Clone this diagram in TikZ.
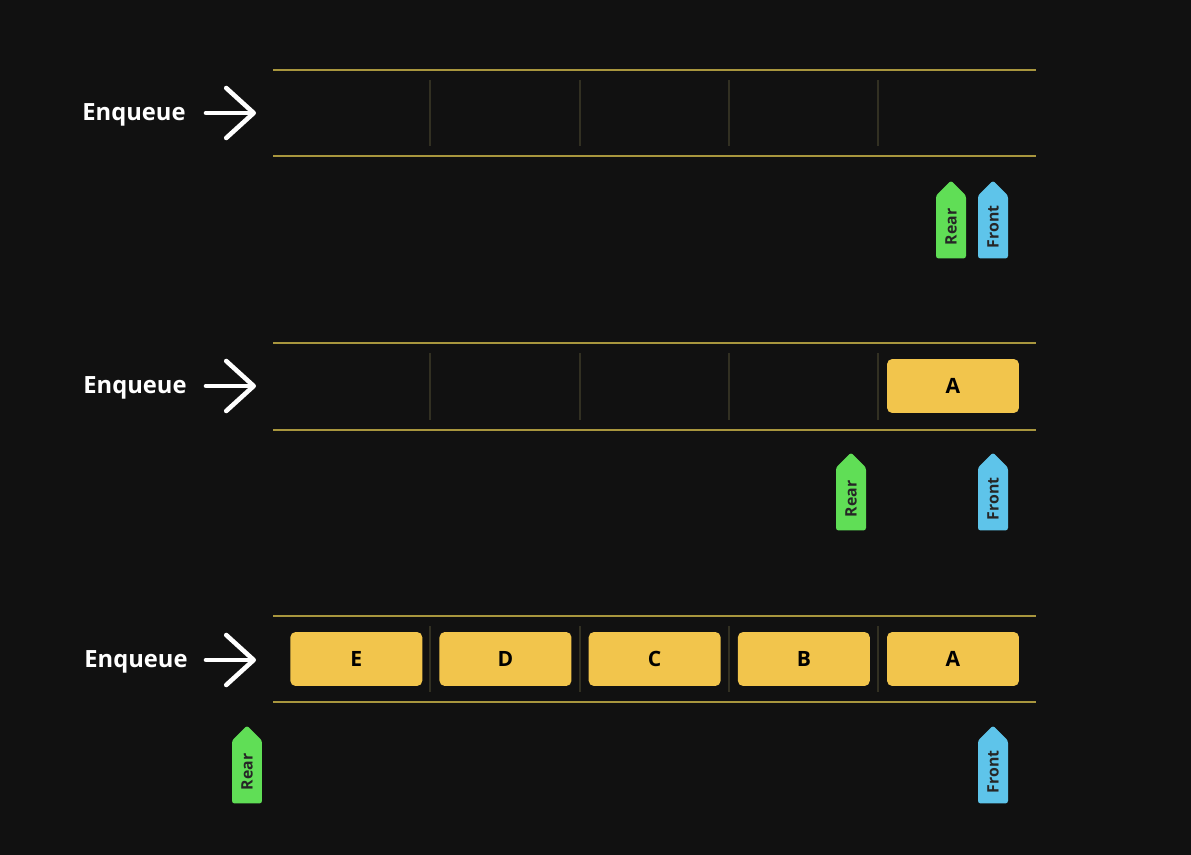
\documentclass[tikz,border=0pt]{standalone}
\usepackage{fontspec}
\setmainfont{Open Sans}
\usetikzlibrary{shapes.symbols, arrows.meta, positioning}
\definecolor{bg}{RGB}{17,17,17}
\definecolor{railcol}{RGB}{168,150,62}
\definecolor{divcol}{RGB}{50,48,34}
\definecolor{slotcol}{RGB}{242,197,76}
\definecolor{rearcol}{RGB}{96,222,86}
\definecolor{frontcol}{RGB}{94,196,234}
\tikzstyle{oplabel} = [text=white, font=\fontsize{13.5}{16}\selectfont\bfseries]
\tikzstyle{item}    = [rectangle, rounded corners=3pt, fill=slotcol, text=black, minimum width=2.64cm, minimum height=1.08cm, font=\fontsize{12}{14}\selectfont\bfseries]
\tikzstyle{reartag} = [signal, signal to=east, rotate=90, fill=rearcol, rounded corners=1.5pt, minimum width=1.56cm, minimum height=0.6cm, inner sep=0pt, text=black!85, font=\fontsize{9}{10}\selectfont\bfseries]
\tikzstyle{fronttag} = [reartag, fill=frontcol]
\tikzstyle{railline} = [draw=railcol, line width=1.5pt]
\tikzstyle{divline}  = [draw=divcol, line width=1.1pt]
\tikzstyle{push}     = [draw=white, line width=2.6pt, line cap=round, -{Straight Barb[length=0.55cm, width=1.0cm, line cap=round, line join=round]}]

\begin{document}
\begin{tikzpicture}[x=0.02cm, y=-0.02cm, node distance=0.33cm]
    \useasboundingbox[fill=bg] (0,0) rectangle (1191,855);

    % empty queue
    \node[oplabel] (enq1) at (134,115) {Enqueue};
    \coordinate (from1) at (206,113);
    \coordinate (to1) at (256,113);
    \draw[push] (from1) -- (to1);
    \draw[railline] (273,70) -- (1036,70);
    \draw[railline] (273,156) -- (1036,156);
    \foreach \x in {430,580,729,878}
        \draw[divline] (\x,80) -- (\x,146);
    \node[reartag] (rear1) at (951,227) {Rear};
    \node[fronttag] (front1) at (993,227) {Front};

    % one item
    \node[oplabel] (enq2) at (135,388) {Enqueue};
    \coordinate (from2) at (206,386);
    \coordinate (to2) at (256,386);
    \draw[push] (from2) -- (to2);
    \draw[railline] (273,343) -- (1036,343);
    \draw[railline] (273,430) -- (1036,430);
    \foreach \x in {430,580,729,878}
        \draw[divline] (\x,353) -- (\x,420);
    \node[item] (a2) at (953,386) {A};
    \node[reartag] (rear2) at (851,499) {Rear};
    \node[fronttag] (front2) at (993,499) {Front};

    % full queue
    \node[oplabel] (enq3) at (136,662) {Enqueue};
    \coordinate (from3) at (206,660);
    \coordinate (to3) at (256,660);
    \draw[push] (from3) -- (to3);
    \draw[railline] (273,616) -- (1036,616);
    \draw[railline] (273,702) -- (1036,702);
    \foreach \x in {430,580,729,878}
        \draw[divline] (\x,626) -- (\x,692);
    \node[item] (a3) at (953,659) {A};
    \node[item, left=of a3] (b3) {B};
    \node[item, left=of b3] (c3) {C};
    \node[item, left=of c3] (d3) {D};
    \node[item, left=of d3] (e3) {E};
    \node[reartag] (rear3) at (247,772) {Rear};
    \node[fronttag] (front3) at (993,772) {Front};
\end{tikzpicture}
\end{document}
